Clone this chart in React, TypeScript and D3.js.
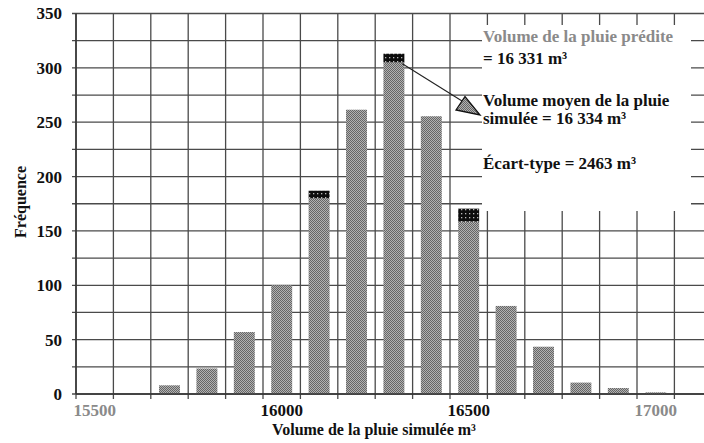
import { useEffect, useRef } from "react";
import * as d3 from "d3";

const categories = [
  "15500", "15600", "15700", "15800", "15900", "16000", "16100", "16200", "16300",
  "16400", "16500", "16600", "16700", "16800", "16900", "17000", "17100",
];
// gray (dotted) part of each bar
const baseCounts = [0, 0, 8, 23.5, 57, 100, 180, 261.5, 305, 255.5, 158.5, 81, 43.5, 10.5, 5.5, 1.5, 0];
// dark cap on top of some bars
const capCounts = [0, 0, 0, 0, 0, 0, 7, 0, 8, 0, 12, 0, 0, 0, 0, 0, 0];

const xTickLabels = ["15500", "16000", "16500", "17000"];
const xTickGrey = ["15500", "17000"];
const yTicks = [0, 50, 100, 150, 200, 250, 300, 350];
const yGrid = [0, 25, 50, 75, 100, 125, 150, 175, 200, 225, 250, 275, 300, 325, 350];

const legendLines = [
  { text: "Volume de la pluie prédite", color: "#8a8a8a" },
  { text: "= 16 331 m³", color: "#111" },
  { text: "Volume moyen de la pluie", color: "#111" },
  { text: "simulée = 16 334 m³", color: "#111" },
  { text: "Écart-type = 2463 m³", color: "#111" },
];

const FONT = "'Liberation Serif', 'Times New Roman', serif";

export default function App() {
  const svgRef = useRef(null);

  useEffect(() => {
    if (!svgRef.current) return;
    const width = 704;
    const height = 443;
    const left = 76;
    const step = 37.4;
    const top = 13.5;
    const bottom = 394;

    const svg = d3.select(svgRef.current);
    svg.selectAll("*").remove();
    svg.attr("viewBox", `0 0 ${width} ${height}`).attr("width", width).attr("height", height);

    const defs = svg.append("defs");
    const dots = defs
      .append("pattern")
      .attr("id", "dots")
      .attr("width", 2)
      .attr("height", 2)
      .attr("patternUnits", "userSpaceOnUse");
    dots.append("rect").attr("width", 2).attr("height", 2).attr("fill", "#b2b2b2");
    dots.append("rect").attr("width", 1).attr("height", 1).attr("fill", "#666");
    dots.append("rect").attr("x", 1).attr("y", 1).attr("width", 1).attr("height", 1).attr("fill", "#666");

    const darkDots = defs
      .append("pattern")
      .attr("id", "darkdots")
      .attr("width", 4)
      .attr("height", 4)
      .attr("patternUnits", "userSpaceOnUse");
    darkDots.append("rect").attr("width", 4).attr("height", 4).attr("fill", "#0c0c0c");
    darkDots.append("rect").attr("x", 1).attr("y", 1).attr("width", 1.3).attr("height", 1.3).attr("fill", "#bbb");

    const x = d3
      .scaleBand()
      .domain(categories)
      .range([left, left + step * categories.length])
      .paddingInner(0.44)
      .paddingOuter(0.22);

    const y = d3.scaleLinear().domain([0, 350]).range([bottom, top]);

    svg.append("rect").attr("width", width).attr("height", height).attr("fill", "white");

    const grid = svg.append("g").attr("stroke", "#4a4a4a").attr("stroke-width", 1.3);
    yGrid.forEach((v) => {
      grid.append("line").attr("x1", left - 4).attr("x2", width).attr("y1", y(v)).attr("y2", y(v));
    });
    categories.forEach((c, i) => {
      const gx = x.range()[0] + i * x.step();
      grid.append("line").attr("x1", gx).attr("x2", gx).attr("y1", top).attr("y2", bottom + 5);
    });

    categories.forEach((c, i) => {
      const base = baseCounts[i];
      const cap = capCounts[i];
      if (base > 0) {
        svg
          .append("rect")
          .attr("x", x(c))
          .attr("width", x.bandwidth())
          .attr("y", y(base))
          .attr("height", y(0) - y(base))
          .attr("fill", "url(#dots)");
      }
      if (cap > 0) {
        svg
          .append("rect")
          .attr("x", x(c))
          .attr("width", x.bandwidth())
          .attr("y", y(base + cap))
          .attr("height", y(base) - y(base + cap))
          .attr("fill", "url(#darkdots)");
      }
    });

    // axes
    svg.append("line").attr("x1", left).attr("x2", width).attr("y1", bottom).attr("y2", bottom)
      .attr("stroke", "#333").attr("stroke-width", 1.5);
    svg.append("line").attr("x1", left).attr("x2", left).attr("y1", top).attr("y2", bottom)
      .attr("stroke", "#333").attr("stroke-width", 1.5);

    yTicks.forEach((v) => {
      svg
        .append("text")
        .attr("x", 62)
        .attr("y", y(v))
        .attr("dy", "0.35em")
        .attr("text-anchor", "end")
        .attr("font-family", FONT)
        .attr("font-weight", "bold")
        .attr("font-size", 17)
        .attr("fill", "#111")
        .text(v);
    });

    xTickLabels.forEach((c) => {
      svg
        .append("text")
        .attr("x", x(c)! + x.bandwidth() / 2)
        .attr("y", 416)
        .attr("text-anchor", "middle")
        .attr("font-family", FONT)
        .attr("font-weight", "bold")
        .attr("font-size", 17)
        .attr("fill", xTickGrey.includes(c) ? "#8a8a8a" : "#111")
        .text(c);
    });

    svg
      .append("text")
      .attr("x", 374)
      .attr("y", 435)
      .attr("text-anchor", "middle")
      .attr("font-family", FONT)
      .attr("font-weight", "bold")
      .attr("font-size", 16)
      .attr("fill", "#111")
      .text("Volume de la pluie simulée m³");

    svg
      .append("text")
      .attr("transform", "translate(26,202) rotate(-90)")
      .attr("text-anchor", "middle")
      .attr("font-family", FONT)
      .attr("font-weight", "bold")
      .attr("font-size", 16)
      .attr("fill", "#111")
      .text("Fréquence");

    // legend box hides the gridlines behind the text
    svg.append("rect").attr("x", 482).attr("y", 25).attr("width", 209).attr("height", 186).attr("fill", "white");

    const baselines = [42, 63.5, 105.5, 123.5, 168.5];
    legendLines.forEach((l, i) => {
      svg
        .append("text")
        .attr("x", 483)
        .attr("y", baselines[i])
        .attr("font-family", FONT)
        .attr("font-weight", "bold")
        .attr("font-size", 17)
        .attr("fill", l.color)
        .text(l.text);
    });

    // leader line from the tallest bar to the marker
    const peakIndex = baseCounts.indexOf(d3.max(baseCounts)!);
    const peak = categories[peakIndex];
    const peakTop = y(baseCounts[peakIndex] + capCounts[peakIndex]);
    svg
      .append("line")
      .attr("x1", x(peak)! + x.bandwidth() - 2)
      .attr("y1", peakTop + 10)
      .attr("x2", 462)
      .attr("y2", 101)
      .attr("stroke", "#222")
      .attr("stroke-width", 1.1);
    svg
      .append("path")
      .attr("d", "M456,110 L465,96.5 L480,115 Z")
      .attr("fill", "url(#dots)")
      .attr("stroke", "#111")
      .attr("stroke-width", 1.3);
  }, []);

  return (
    <svg
      ref={svgRef}
      style={{ position: "absolute", left: 0, top: 0, display: "block" }}
    />
  );
}
